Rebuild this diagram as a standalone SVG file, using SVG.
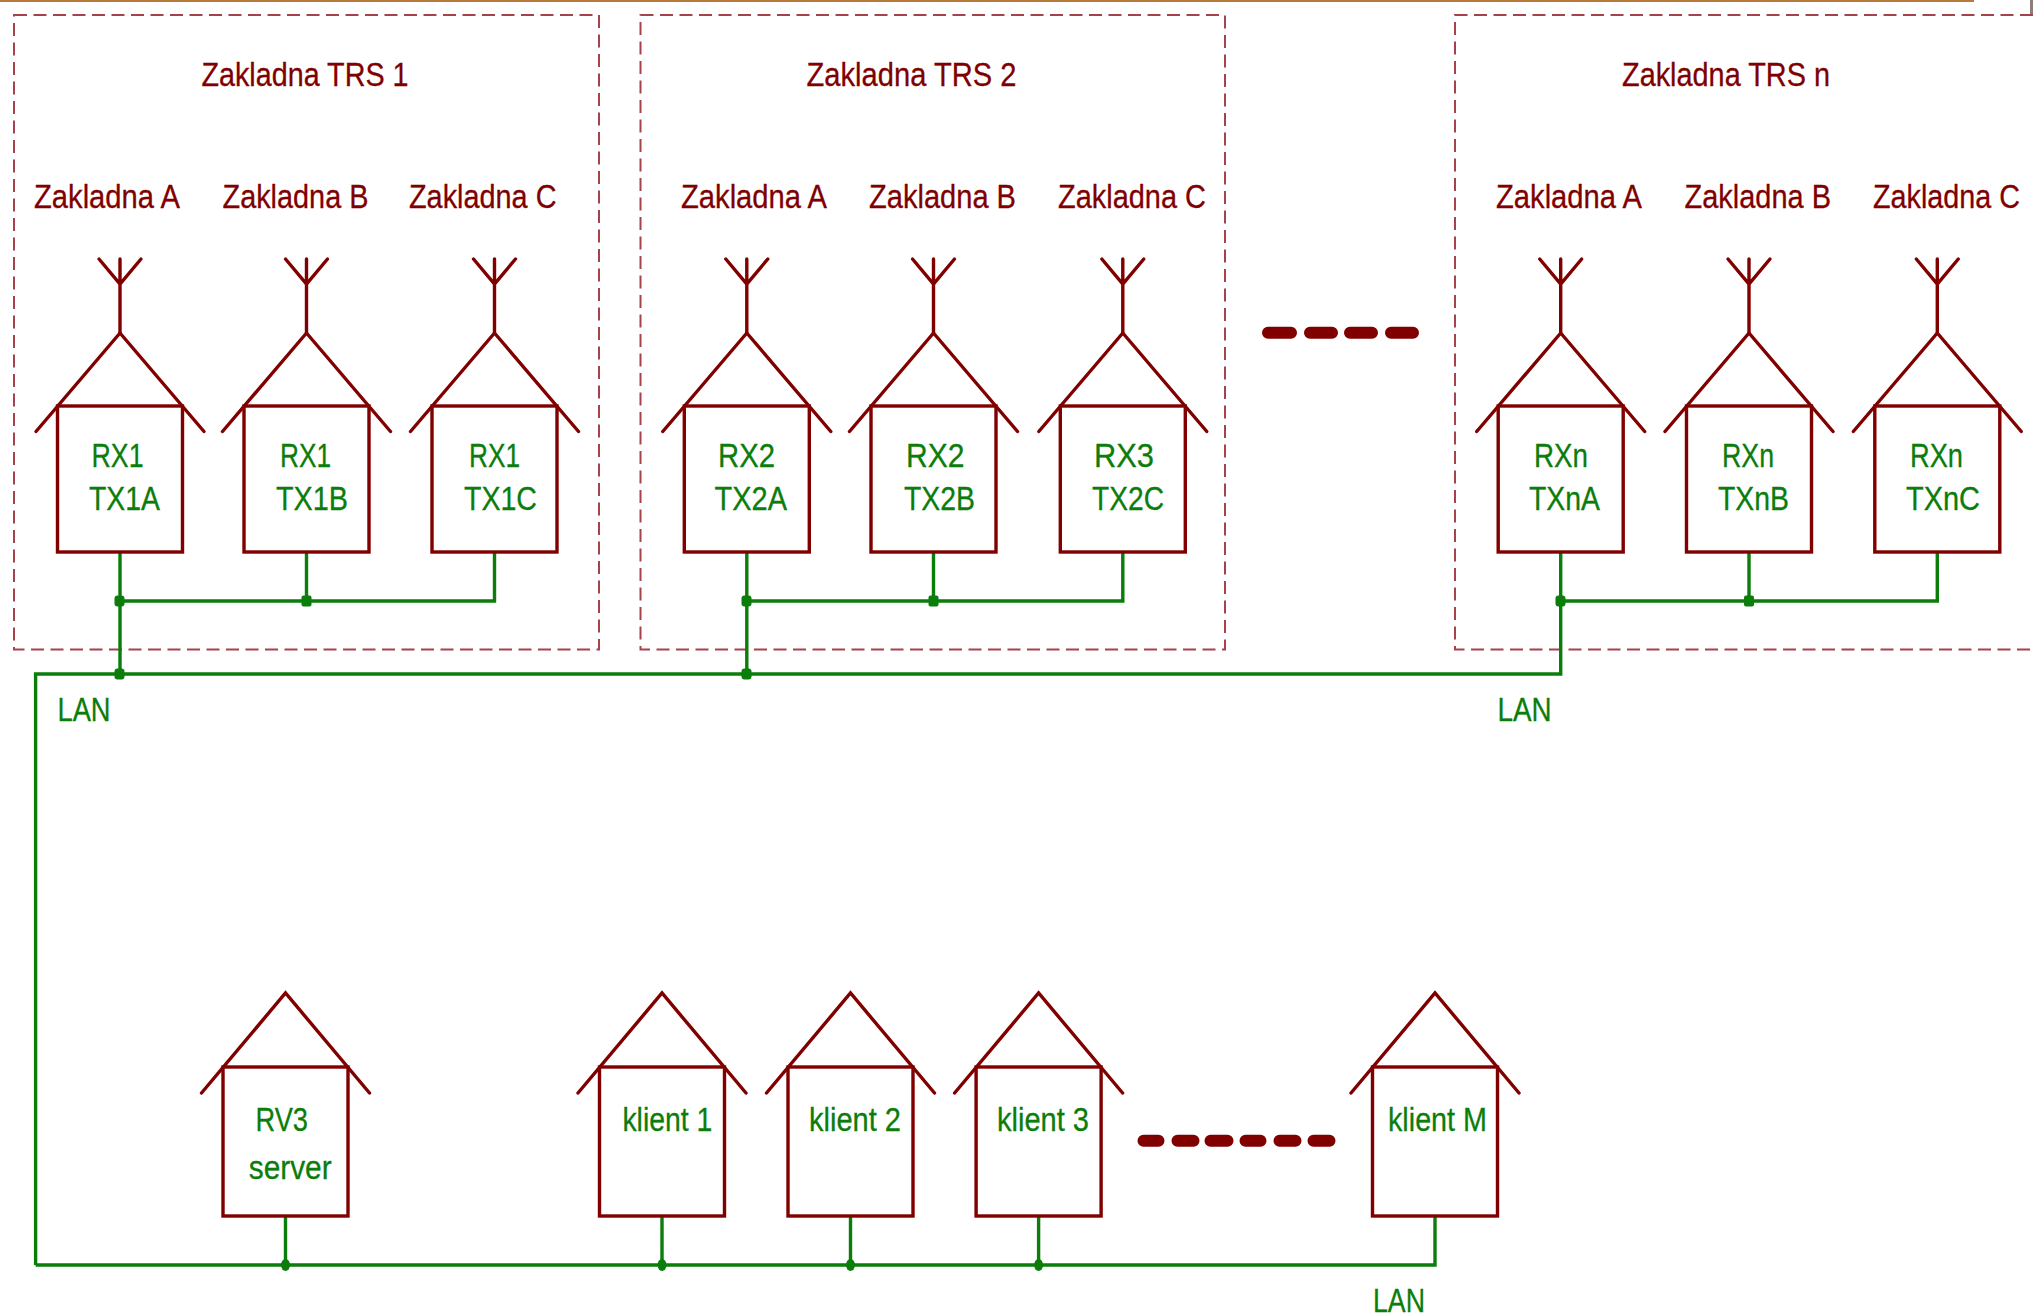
<svg xmlns="http://www.w3.org/2000/svg" width="2033" height="1316" viewBox="0 0 2033 1316">
<style>
.r{fill:none;stroke:#800000;stroke-width:3.4;stroke-linecap:round;stroke-linejoin:miter}
.d{fill:none;stroke:#a5434b;stroke-width:2;stroke-dasharray:13 6.5}
.g{fill:none;stroke:#0a7d0a;stroke-width:3.4;stroke-linejoin:miter}
.p{fill:#0a7d0a}
.m{fill:none;stroke:#800000;stroke-width:12;stroke-linecap:round}
text{font-family:"Liberation Sans",Arial,sans-serif;font-size:34px;stroke-width:.3}
.tr{fill:#800000;stroke:#800000}
.tg{fill:#0a7d0a;stroke:#0a7d0a}
</style>
<defs>
<g id="house"><path class="r" d="M-84,431.5L0,333L84,431.5"/><rect class="r" x="-62.5" y="406" width="125" height="146"/></g>
<g id="ant"><path class="r" d="M0,333V259M-21,259L0,284L21,259"/></g>
<g id="house2"><path class="r" d="M-84,1093L0,993L84,1093"/><rect class="r" x="-62.5" y="1067" width="125" height="149"/></g>
</defs>
<rect x="0" y="0" width="1974" height="2" fill="#b87a3c"/>
<rect x="2030" y="0" width="3" height="14" fill="#8a8078"/>

<g id="trs1"><rect class="d" x="14" y="15" width="585" height="634.5"/><text class="tr" x="201.5" y="86" textLength="207" lengthAdjust="spacingAndGlyphs">Zakladna TRS 1</text></g>
<g id="trs2"><rect class="d" x="640.5" y="15" width="584.5" height="634.5"/><text class="tr" x="806.5" y="86" textLength="210" lengthAdjust="spacingAndGlyphs">Zakladna TRS 2</text></g>
<g id="trsn"><path class="d" d="M2033,15H1455V649.5H2033"/><text class="tr" x="1622" y="86" textLength="208" lengthAdjust="spacingAndGlyphs">Zakladna TRS n</text></g>

<g id="connectors">
<path class="g" d="M120,552V674M120,601H494.5V552M306.5,552V601"/>
<path class="g" d="M746.8,552V674M746.8,601H1122.8V552M933.5,552V601"/>
<path class="g" d="M1749,552V601M1937.3,552V601H1560.7"/>
<path class="g" d="M35.6,1265V674H1560.7V552"/>
<path class="g" d="M35.6,1265H1435V1216M285.5,1216V1265M662,1216V1265M850.5,1216V1265M1038.6,1216V1265"/>
<rect class="p" x="114.500" y="595.500" width="10" height="11" rx="3"/>
<rect class="p" x="301.500" y="595.500" width="10" height="11" rx="2"/>
<rect class="p" x="114.500" y="668.500" width="10" height="11" rx="3"/>
<rect class="p" x="741.500" y="595.500" width="10" height="11" rx="3"/>
<rect class="p" x="928.500" y="595.500" width="10" height="11" rx="2"/>
<rect class="p" x="741.500" y="668.500" width="10" height="11" rx="3"/>
<rect class="p" x="1555.500" y="595.500" width="10" height="11" rx="3"/>
<rect class="p" x="1744" y="595.500" width="10" height="11" rx="2"/>
<ellipse class="p" cx="285.5" cy="1265" rx="4.5" ry="6"/>
<ellipse class="p" cx="662" cy="1265" rx="4.5" ry="6"/>
<ellipse class="p" cx="850.5" cy="1265" rx="4.5" ry="6"/>
<ellipse class="p" cx="1038.6" cy="1265" rx="4.5" ry="6"/>
</g>

<g id="n1a"><use href="#ant" x="120"/><use href="#house" x="120"/><text class="tr" x="34" y="208" textLength="146" lengthAdjust="spacingAndGlyphs">Zakladna A</text><text class="tg" x="91.5" y="467" textLength="52" lengthAdjust="spacingAndGlyphs">RX1</text><text class="tg" x="89" y="510" textLength="71" lengthAdjust="spacingAndGlyphs">TX1A</text></g>
<g id="n1b"><use href="#ant" x="306.5"/><use href="#house" x="306.5"/><text class="tr" x="222.5" y="208" textLength="146" lengthAdjust="spacingAndGlyphs">Zakladna B</text><text class="tg" x="280" y="467" textLength="51" lengthAdjust="spacingAndGlyphs">RX1</text><text class="tg" x="276" y="510" textLength="72" lengthAdjust="spacingAndGlyphs">TX1B</text></g>
<g id="n1c"><use href="#ant" x="494.5"/><use href="#house" x="494.5"/><text class="tr" x="409" y="208" textLength="147.5" lengthAdjust="spacingAndGlyphs">Zakladna C</text><text class="tg" x="469" y="467" textLength="51" lengthAdjust="spacingAndGlyphs">RX1</text><text class="tg" x="464" y="510" textLength="73" lengthAdjust="spacingAndGlyphs">TX1C</text></g>

<g id="n2a"><use href="#ant" x="746.8"/><use href="#house" x="746.8"/><text class="tr" x="681" y="208" textLength="146" lengthAdjust="spacingAndGlyphs">Zakladna A</text><text class="tg" x="718" y="467" textLength="57" lengthAdjust="spacingAndGlyphs">RX2</text><text class="tg" x="714.5" y="510" textLength="72.5" lengthAdjust="spacingAndGlyphs">TX2A</text></g>
<g id="n2b"><use href="#ant" x="933.5"/><use href="#house" x="933.5"/><text class="tr" x="869" y="208" textLength="147" lengthAdjust="spacingAndGlyphs">Zakladna B</text><text class="tg" x="906" y="467" textLength="58.500" lengthAdjust="spacingAndGlyphs">RX2</text><text class="tg" x="904" y="510" textLength="71" lengthAdjust="spacingAndGlyphs">TX2B</text></g>
<g id="n2c"><use href="#ant" x="1122.8"/><use href="#house" x="1122.8"/><text class="tr" x="1058" y="208" textLength="148" lengthAdjust="spacingAndGlyphs">Zakladna C</text><text class="tg" x="1094" y="467" textLength="60" lengthAdjust="spacingAndGlyphs">RX3</text><text class="tg" x="1092" y="510" textLength="72" lengthAdjust="spacingAndGlyphs">TX2C</text></g>

<g id="nna"><use href="#ant" x="1560.7"/><use href="#house" x="1560.7"/><text class="tr" x="1496" y="208" textLength="146" lengthAdjust="spacingAndGlyphs">Zakladna A</text><text class="tg" x="1534" y="467" textLength="54" lengthAdjust="spacingAndGlyphs">RXn</text><text class="tg" x="1529" y="510" textLength="71" lengthAdjust="spacingAndGlyphs">TXnA</text></g>
<g id="nnb"><use href="#ant" x="1749"/><use href="#house" x="1749"/><text class="tr" x="1684.5" y="208" textLength="146.500" lengthAdjust="spacingAndGlyphs">Zakladna B</text><text class="tg" x="1722" y="467" textLength="52" lengthAdjust="spacingAndGlyphs">RXn</text><text class="tg" x="1718" y="510" textLength="71" lengthAdjust="spacingAndGlyphs">TXnB</text></g>
<g id="nnc"><use href="#ant" x="1937.3"/><use href="#house" x="1937.3"/><text class="tr" x="1873" y="208" textLength="147" lengthAdjust="spacingAndGlyphs">Zakladna C</text><text class="tg" x="1910" y="467" textLength="53" lengthAdjust="spacingAndGlyphs">RXn</text><text class="tg" x="1906" y="510" textLength="74" lengthAdjust="spacingAndGlyphs">TXnC</text></g>

<g id="dots-top"><path class="m" d="M1268,332.700H1291M1310,332.700H1332M1350,332.700H1372M1391,332.700H1413"/></g>
<g id="dots-bottom"><path class="m" d="M1143.500,1140.700H1158.500M1177.500,1140.700H1193.500M1210.500,1140.700H1227.500M1245.500,1140.700H1260.500M1279.500,1140.700H1295.500M1313.500,1140.700H1329.500"/></g>

<g id="server"><use href="#house2" x="285.500"/><text class="tg" x="255.500" y="1131" textLength="52.500" lengthAdjust="spacingAndGlyphs">RV3</text><text class="tg" x="248.700" y="1179" textLength="83" lengthAdjust="spacingAndGlyphs">server</text></g>
<g id="klient1"><use href="#house2" x="662"/><text class="tg" x="622.400" y="1131" textLength="90" lengthAdjust="spacingAndGlyphs">klient 1</text></g>
<g id="klient2"><use href="#house2" x="850.500"/><text class="tg" x="809" y="1131" textLength="92" lengthAdjust="spacingAndGlyphs">klient 2</text></g>
<g id="klient3"><use href="#house2" x="1038.600"/><text class="tg" x="997" y="1131" textLength="92" lengthAdjust="spacingAndGlyphs">klient 3</text></g>
<g id="klientM"><use href="#house2" x="1435"/><text class="tg" x="1388" y="1131" textLength="99" lengthAdjust="spacingAndGlyphs">klient M</text></g>

<g id="lan-labels">
<text class="tg" x="57.500" y="720.500" textLength="53" lengthAdjust="spacingAndGlyphs">LAN</text>
<text class="tg" x="1497.500" y="720.500" textLength="54" lengthAdjust="spacingAndGlyphs">LAN</text>
<text class="tg" x="1373" y="1311.500" textLength="52" lengthAdjust="spacingAndGlyphs">LAN</text>
</g>
</svg>
